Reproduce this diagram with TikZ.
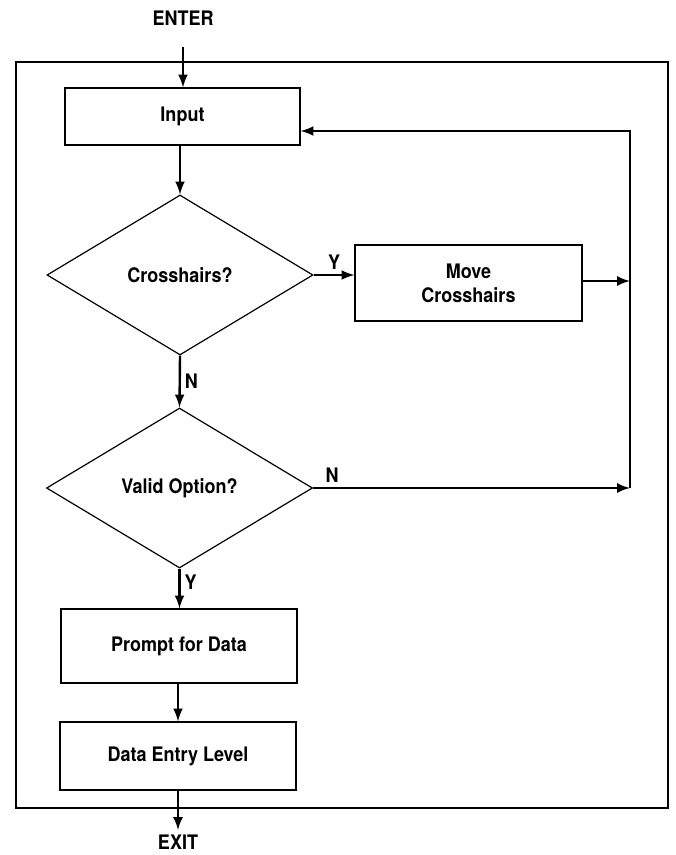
\documentclass[tikz,border=0pt]{standalone}
\usepackage{fontspec}
\setmainfont{TeX Gyre Heros}[FakeStretch=0.9]
\usetikzlibrary{shapes.geometric}
\tikzset{>=latex}
\tikzset{
  block/.style = {draw, line width=0.6pt, minimum width=117.5pt, inner sep=2pt},
  decision/.style = {draw, diamond, line width=0.6pt, minimum width=133pt, minimum height=80pt, inner sep=0pt},
  flow/.style = {->, line width=1.2pt},
  tag/.style = {font=\bfseries, inner sep=2pt}
}

\begin{document}
\begin{tikzpicture}[x=0.5pt,y=-0.5pt,font=\bfseries]
  \useasboundingbox (0,0) rectangle (675,855);
  % frame
  \draw[line width=1pt] (16,62) rectangle (668,808);
  % nodes
  \node (enter) at (183,18) {ENTER};
  \coordinate (enterin) at (183,47);
  \node[block, minimum height=28.5pt] (input) at (182.5,116.5) {Input};
  \node[decision] (cross) at (180,275) {Crosshairs?};
  \node[block, minimum width=113.5pt, minimum height=38pt, align=center] (move) at (468.5,283) {Move\\Crosshairs};
  \node[decision] (valid) at (179.5,488) {Valid Option?};
  \node[block, minimum width=118pt, minimum height=37pt] (prompt) at (179,646) {Prompt for Data};
  \node[block, minimum width=118pt, minimum height=34pt] (entry) at (178,756) {Data Entry Level};
  \coordinate (exitout) at (178,830);
  \node (exit) at (178,842) {EXIT};
  % loop back
  \coordinate (looptop) at (630,131);
  \coordinate (loopmid) at (630,281);
  \coordinate (loopbot) at (630,488);
  % main flow
  \draw[flow] (enterin) -- (enterin |- input.north);
  \draw[flow] (input.south -| cross.north) -- (cross.north);
  \draw[flow] (cross.south) -- node[tag, right] {N} (valid.north);
  \draw[flow] (valid.south) -- node[tag, right, pos=0.35] {Y} (valid.south |- prompt.north);
  \draw[flow] (prompt.south -| entry.north) -- (entry.north);
  \draw[flow] (entry.south) -- (exitout);
  % branches
  \draw[flow] (cross.east) -- node[tag, above] {Y} (cross.east -| move.west);
  \draw[flow] (move.east |- loopmid) -- (loopmid);
  \draw[flow] (valid.east) -- node[tag, above, pos=0.06] {N} (loopbot);
  \draw[flow] (loopbot) -- (looptop) -- (looptop -| input.east);
\end{tikzpicture}
\end{document}
